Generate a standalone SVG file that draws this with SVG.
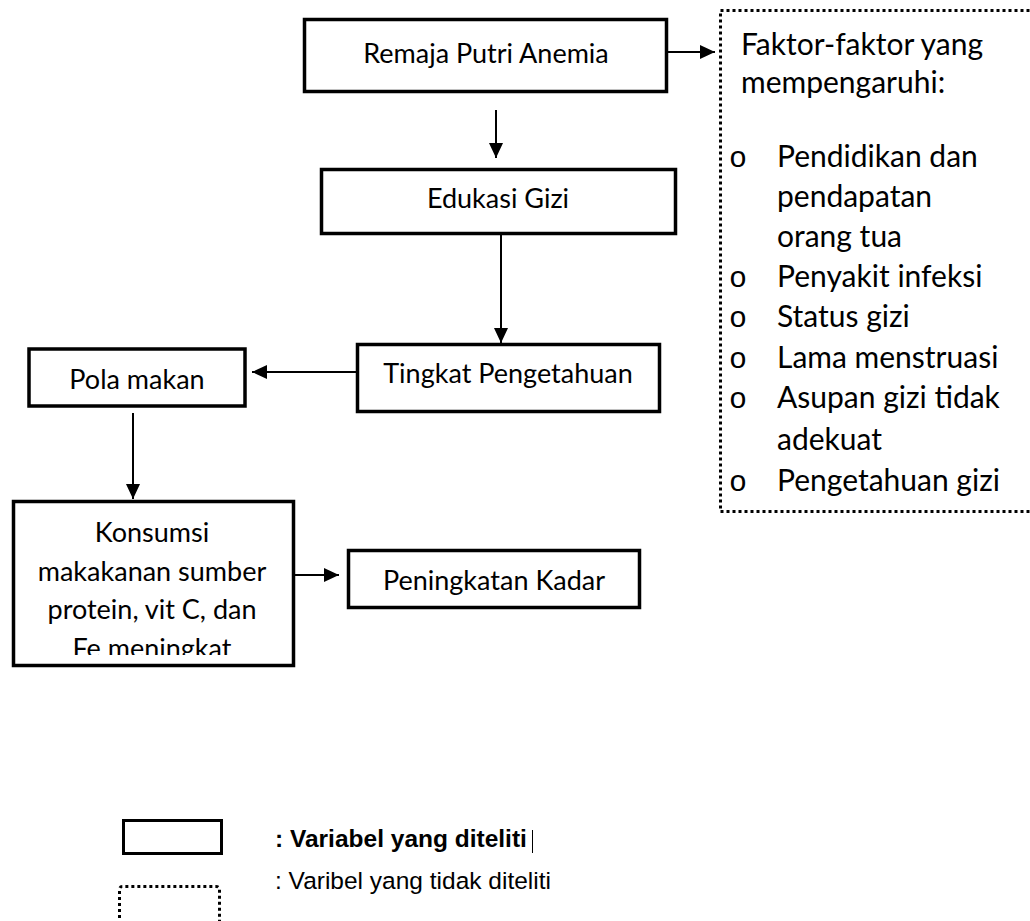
<svg xmlns="http://www.w3.org/2000/svg" width="1030" height="921" viewBox="0 0 1030 921">
<style>
.box{fill:#fff;stroke:#000;stroke-width:3.5}
.dot{fill:none;stroke:#000;stroke-width:3;stroke-dasharray:3 3}
.t{font-family:Lato,"Liberation Sans",sans-serif;font-size:27px;fill:#000;text-anchor:middle}
.f{font-family:Lato,"Liberation Sans",sans-serif;font-size:30px;fill:#000}
.o{font-family:"Liberation Mono","Courier New",monospace;font-size:30px;fill:#000}
.b{font-family:"Liberation Sans",Arial,sans-serif;font-size:24.5px;fill:#000}
.c{fill:none;stroke:#000;stroke-width:2}
</style>
<defs>
<marker id="ah" markerUnits="userSpaceOnUse" markerWidth="16" markerHeight="16" viewBox="0 0 16 16" refX="15" refY="8" orient="auto">
<path d="M0,1 L15,8 L0,15 Z" fill="#000"/>
</marker>
<clipPath id="kclip"><rect x="12" y="500" width="283" height="155"/></clipPath>
</defs>
<rect width="1030" height="921" fill="#fff"/>

<g id="remaja">
<rect class="box" x="304.5" y="19.5" width="362" height="72"/>
<text class="t" x="486" y="63">Remaja Putri Anemia</text>
</g>

<g id="faktor">
<rect class="dot" x="720.5" y="10.5" width="345" height="501"/>
<text class="f" x="741" y="55">Faktor-faktor yang</text>
<text class="f" x="741" y="93">mempengaruhi:</text>
<text class="o" x="729" y="167">o</text>
<text class="o" x="729" y="287">o</text>
<text class="o" x="729" y="327">o</text>
<text class="o" x="729" y="368">o</text>
<text class="o" x="729" y="408">o</text>
<text class="o" x="729" y="491">o</text>
<text class="f" x="777" y="167">Pendidikan dan</text>
<text class="f" x="777" y="207">pendapatan</text>
<text class="f" x="777" y="247">orang tua</text>
<text class="f" x="777" y="287">Penyakit infeksi</text>
<text class="f" x="777" y="327">Status gizi</text>
<text class="f" x="777" y="368">Lama menstruasi</text>
<text class="f" x="777" y="408">Asupan gizi tidak</text>
<text class="f" x="777" y="450">adekuat</text>
<text class="f" x="777" y="491">Pengetahuan gizi</text>
</g>

<g id="edukasi">
<rect class="box" x="321.5" y="169.5" width="354" height="64"/>
<text class="t" x="498" y="208">Edukasi Gizi</text>
</g>

<g id="tingkat">
<rect class="box" x="357.5" y="344.5" width="302" height="67"/>
<text class="t" x="508" y="383">Tingkat Pengetahuan</text>
</g>

<g id="pola">
<rect class="box" x="29" y="349" width="216" height="57" stroke-width="4"/>
<text class="t" x="137" y="389">Pola makan</text>
</g>

<g id="konsumsi">
<rect class="box" x="13.5" y="501.5" width="280" height="164"/>
<g clip-path="url(#kclip)">
<text class="t" x="152" y="542">Konsumsi</text>
<text class="t" x="152" y="580.5">makakanan sumber</text>
<text class="t" x="152" y="619">protein, vit C, dan</text>
<text class="t" x="152" y="658">Fe meningkat</text>
</g>
</g>

<g id="peningkatan">
<rect class="box" x="348.5" y="550.5" width="291" height="57"/>
<text class="t" x="494" y="590">Peningkatan Kadar</text>
</g>

<g id="connectors">
<line class="c" x1="668" y1="52" x2="715" y2="52" marker-end="url(#ah)"/>
<line class="c" x1="496" y1="110" x2="496" y2="158" marker-end="url(#ah)"/>
<line class="c" x1="501" y1="235" x2="501" y2="343" marker-end="url(#ah)"/>
<line class="c" x1="356" y1="372" x2="252" y2="372" marker-end="url(#ah)"/>
<line class="c" x1="133" y1="413" x2="133" y2="499" marker-end="url(#ah)"/>
<line class="c" x1="295" y1="575" x2="339" y2="575" marker-end="url(#ah)"/>
</g>

<g id="legend">
<rect x="123.5" y="820.5" width="98" height="33" fill="#fff" stroke="#000" stroke-width="3"/>
<text class="b" x="275" y="847" font-weight="bold">: Variabel yang diteliti</text>
<line x1="532.5" y1="830" x2="532.5" y2="853" stroke="#000" stroke-width="1"/>
<path class="dot" d="M119.5,930 V890 Q119.5,886.5 122.5,886.5 H216 Q219.5,886.5 219.5,890 V930"/>
<text class="b" x="275" y="889">: Varibel yang tidak diteliti</text>
</g>
</svg>
